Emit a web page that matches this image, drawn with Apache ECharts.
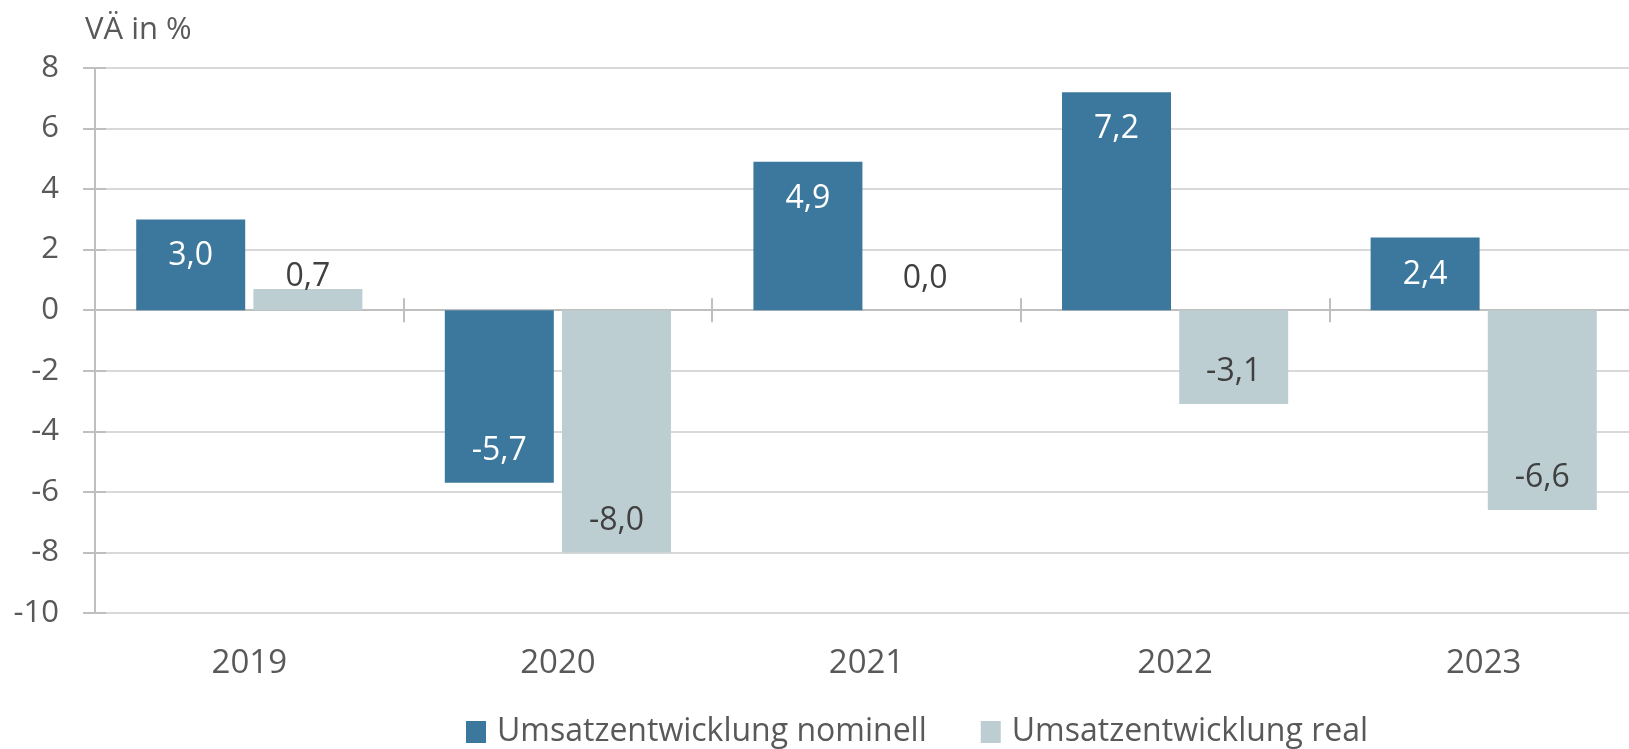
<!DOCTYPE html>
<html><head><meta charset="utf-8">
<script src="https://cdn.jsdelivr.net/npm/echarts@6/dist/echarts.min.js"></script>
<style>html,body{margin:0;padding:0;background:#fff;overflow:hidden;width:1629px;height:749px}#c{width:1638px;height:749px}</style>
</head><body><div id="c"></div>
<script>
const categories = ['2019', '2020', '2021', '2022', '2023'];
const nominal = [3.0, -5.7, 4.9, 7.2, 2.4];
const real = [0.7, -8.0, 0.0, -3.1, -6.6];
const seriesNames = ['Umsatzentwicklung nominell', 'Umsatzentwicklung real'];
const yMin = -10, yMax = 8, yStep = 2;
const unitLabel = 'VÄ in %';

const FONT = '"Open Sans", "Noto Sans", sans-serif';
const fmt = p => p.value.toFixed(1).replace('.', ',');

function nomData(arr) {
  return arr.map(v => ({
    value: v,
    label: v >= 0 ? { position: 'insideTop', distance: 21 } : { position: 'insideBottom', distance: 16 }
  }));
}
function realData(arr) {
  return arr.map(v => ({
    value: v,
    label: v < 0 ? { position: 'insideBottom', distance: 16 }
                 : { position: 'top', distance: v === 0 ? 15 : -4 }
  }));
}

const chart = echarts.init(document.getElementById('c'), null, { renderer: 'canvas' });
const yBase = { type: 'value', min: yMin, max: yMax, interval: yStep, position: 'left', offset: 0 };
const tickColor = '#bfbfbf';
chart.setOption({
  animation: false,
  backgroundColor: '#ffffff',
  textStyle: { fontFamily: FONT },
  title: {
    text: unitLabel, left: 80, top: 10,
    textStyle: { fontFamily: FONT, fontSize: 31, fontWeight: 'normal', color: '#595959' }
  },
  legend: {
    data: seriesNames, left: 466, top: 716, padding: 0,
    itemWidth: 20, itemHeight: 22, itemGap: 54, icon: 'rect',
    textStyle: { fontFamily: FONT, fontSize: 32, color: '#595959', padding: [0, 0, 0, 6] }
  },
  grid: { left: 95, right: 0, top: 68, bottom: 136 },
  xAxis: [
    {
      type: 'category', data: categories,
      axisLine: { show: false, onZero: false }, axisTick: { show: false },
      axisLabel: { fontFamily: FONT, fontSize: 33, color: '#595959', margin: 34 }
    },
    {
      type: 'category', data: categories, position: 'bottom',
      axisLine: { show: true, onZero: true, onZeroAxisIndex: 0, lineStyle: { color: tickColor, width: 2 } },
      axisTick: { show: true, inside: false, length: 12, lineStyle: { color: tickColor, width: 2 } },
      axisLabel: { show: false }
    },
    {
      type: 'category', data: categories, position: 'bottom',
      axisLine: { show: false, onZero: true, onZeroAxisIndex: 0 },
      axisTick: { show: true, inside: true, length: 12, lineStyle: { color: tickColor, width: 2 } },
      axisLabel: { show: false }
    }
  ],
  yAxis: [
    Object.assign({}, yBase, {
      axisLine: { show: true, lineStyle: { color: tickColor, width: 2 } },
      axisTick: { show: true, length: 12, lineStyle: { color: tickColor, width: 2 } },
      axisLabel: { fontFamily: FONT, fontSize: 31, color: '#595959', margin: 36 },
      splitLine: { show: true, lineStyle: { color: '#d9d9d9', width: 2 } }
    }),
    Object.assign({}, yBase, {
      axisLine: { show: false },
      axisTick: { show: true, inside: true, length: 11, lineStyle: { color: tickColor, width: 2 } },
      axisLabel: { show: false },
      splitLine: { show: false }
    })
  ],
  series: [
    {
      name: seriesNames[0], type: 'bar', xAxisIndex: 0, yAxisIndex: 0,
      data: nomData(nominal), barWidth: 109, barGap: '7.5%',
      itemStyle: { color: '#3c789d' },
      label: { show: true, formatter: fmt, fontFamily: FONT, fontSize: 32, color: '#ffffff' }
    },
    {
      name: seriesNames[1], type: 'bar', xAxisIndex: 0, yAxisIndex: 0,
      data: realData(real), barWidth: 109,
      itemStyle: { color: '#bdced3' },
      label: { show: true, formatter: fmt, fontFamily: FONT, fontSize: 32, color: '#404040' }
    }
  ]
});
</script></body></html>
